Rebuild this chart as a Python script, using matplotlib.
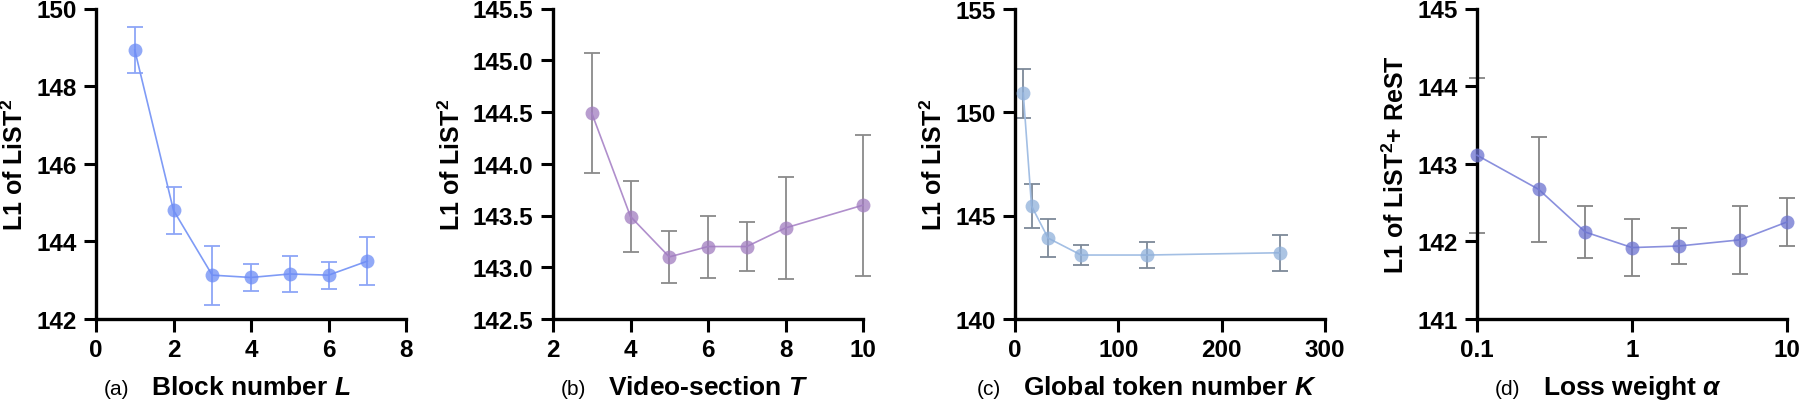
import matplotlib.pyplot as plt
import numpy as np

plt.rcParams['font.family'] = ['Liberation Sans', 'DejaVu Sans']
plt.rcParams['mathtext.fontset'] = 'custom'
plt.rcParams['mathtext.rm'] = 'Liberation Sans:weight=bold'
plt.rcParams['mathtext.it'] = 'Liberation Sans:style=italic:weight=bold'
plt.rcParams['mathtext.bf'] = 'Liberation Sans:weight=bold'
plt.rcParams['mathtext.default'] = 'bf'

# (a) block number L
block_x = [1, 2, 3, 4, 5, 6, 7]
block_y = [148.93, 144.80, 143.13, 143.07, 143.16, 143.13, 143.49]
block_sd = [0.60, 0.60, 0.76, 0.35, 0.46, 0.35, 0.62]

# (b) video-section T
section_x = [3, 4, 5, 6, 7, 8, 10]
section_y = [144.49, 143.49, 143.10, 143.20, 143.20, 143.38, 143.60]
section_sd = [0.58, 0.34, 0.25, 0.30, 0.24, 0.49, 0.68]

# (c) global token number K
token_x = [8, 16, 32, 64, 128, 256]
token_y = [150.91, 145.46, 143.91, 143.09, 143.09, 143.20]
token_sd = [1.18, 1.06, 0.90, 0.50, 0.65, 0.88]

# (d) loss weight alpha
alpha_x = [0.1, 0.25, 0.5, 1, 2, 5, 10]
alpha_y = [143.11, 142.67, 142.12, 141.92, 141.94, 142.02, 142.25]
alpha_sd = [1.00, 0.68, 0.33, 0.37, 0.23, 0.44, 0.31]

panels = [
    dict(x=block_x, y=block_y, sd=block_sd, xlim=(0, 8), xticks=[0, 2, 4, 6, 8],
         ylim=(142, 150), yticks=[142, 144, 146, 148, 150], yfmt='{:.0f}',
         ylabel=r'L1 of LiST$^{2}$', tag='(a)', xlabel=r'Block number $\mathit{L}$',
         mc='#6d8cf5', lc='#7f9bf6', ec='#8ea6f7', log=False),
    dict(x=section_x, y=section_y, sd=section_sd, xlim=(2, 10), xticks=[2, 4, 6, 8, 10],
         ylim=(142.5, 145.5), yticks=[142.5, 143.0, 143.5, 144.0, 144.5, 145.0, 145.5],
         yfmt='{:.1f}', ylabel=r'L1 of LiST$^{2}$', tag='(b)',
         xlabel=r'Video-section $\mathit{T}$',
         mc='#a07cbf', lc='#b08fcc', ec='#8a8a8a', log=False),
    dict(x=token_x, y=token_y, sd=token_sd, xlim=(0, 300), xticks=[0, 100, 200, 300],
         ylim=(140, 155), yticks=[140, 145, 150, 155], yfmt='{:.0f}',
         ylabel=r'L1 of LiST$^{2}$', tag='(c)',
         xlabel=r'Global token number $\mathit{K}$',
         mc='#8fb0da', lc='#a3bfe4', ec='#7d8998', log=False),
    dict(x=alpha_x, y=alpha_y, sd=alpha_sd, xlim=(0.1, 10), xticks=[0.1, 1, 10],
         ylim=(141, 145), yticks=[141, 142, 143, 144, 145], yfmt='{:.0f}',
         ylabel=r'L1 of LiST$^{2}$+ ReST', tag='(d)',
         xlabel=r'Loss weight $\mathit{\alpha}$',
         mc='#6b72cf', lc='#8a90dd', ec='#858585', log=True),
]

lefts = [96, 553, 1015, 1477]
base_y = (7 - 82) / 310.5  # baseline of the x captions, axes fraction

fig = plt.figure(figsize=(18, 4.02), dpi=100)
for left, p in zip(lefts, panels):
    ax = fig.add_axes([left / 1800, 82 / 402, 310 / 1800, 310.5 / 402])
    if p['log']:
        ax.set_xscale('log')
    ax.errorbar(p['x'], p['y'], yerr=p['sd'], fmt='none', ecolor=p['ec'],
                elinewidth=1.3, capsize=6, capthick=1.3, clip_on=False, zorder=2)
    ax.plot(p['x'], p['y'], '-', color=p['lc'], lw=1.2, zorder=3, clip_on=False)
    ax.plot(p['x'], p['y'], 'o', color=p['mc'], ms=10, alpha=0.75, mec='none',
            zorder=4, clip_on=False)
    ax.set_xlim(*p['xlim'])
    ax.set_ylim(*p['ylim'])
    ax.set_xticks(p['xticks'])
    ax.set_xticklabels([('{:g}').format(v) for v in p['xticks']])
    ax.minorticks_off()
    ax.set_yticks(p['yticks'])
    ax.set_yticklabels([p['yfmt'].format(v) for v in p['yticks']])
    for s in ['top', 'right']:
        ax.spines[s].set_visible(False)
    for s in ['left', 'bottom']:
        ax.spines[s].set_linewidth(2.4)
    ax.tick_params(width=2.2, length=9, labelsize=17.5, direction='out', pad=5)
    for lab in ax.get_xticklabels() + ax.get_yticklabels():
        lab.set_fontweight('bold')
    ax.set_ylabel(p['ylabel'], fontsize=18, fontweight='bold', labelpad=6)
    cap = ax.text(0.5, base_y, p['xlabel'], transform=ax.transAxes, ha='center',
                  va='baseline', fontsize=19, fontweight='bold')
    ax.annotate(p['tag'], xy=(0, base_y), xycoords=(cap, 'axes fraction'),
                xytext=(-22, 0), textcoords='offset pixels',
                ha='right', va='baseline', fontsize=15)

fig.savefig('out.png', dpi=100)
